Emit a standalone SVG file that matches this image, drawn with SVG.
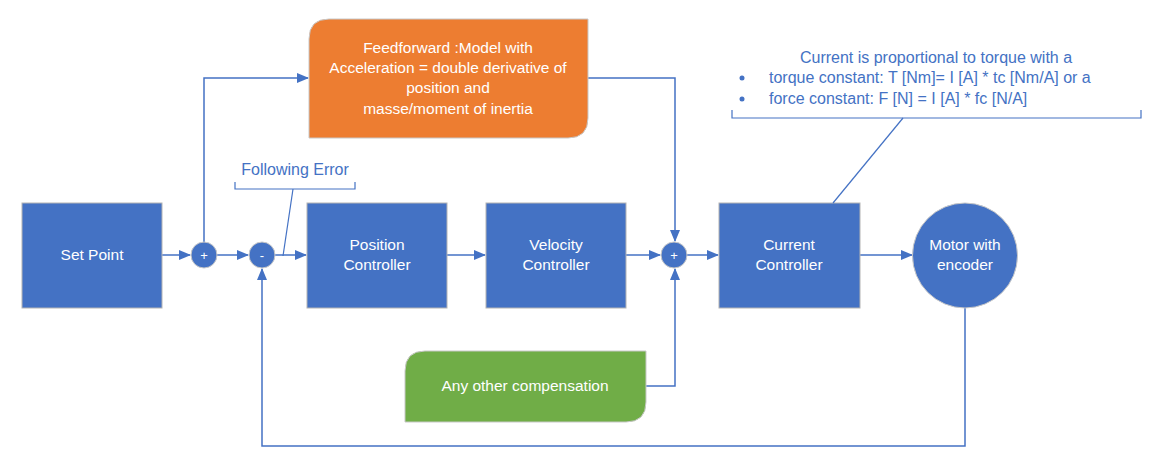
<svg xmlns="http://www.w3.org/2000/svg" width="1155" height="469" viewBox="0 0 1155 469">
<defs>
<marker id="ah" markerWidth="12" markerHeight="10" refX="11" refY="5" orient="auto" markerUnits="userSpaceOnUse">
<path d="M0,0 L12,5 L0,10 Z" fill="#4472C4"/>
</marker>
</defs>
<style>
.box{fill:#4472C4;stroke:#B4B4B4;stroke-width:1}
.sum{fill:#4472C4;stroke:#C8C8C8;stroke-width:1}
.lbl{font-family:"Liberation Sans",Arial,sans-serif;font-size:15.5px;fill:#FFFFFF;text-anchor:middle}
.sym{font-family:"Liberation Sans",Arial,sans-serif;font-size:13px;fill:#FFFFFF;text-anchor:middle}
.note{font-family:"Liberation Sans",Arial,sans-serif;font-size:16px;fill:#4472C4}
.ln{fill:none;stroke:#4472C4;stroke-width:1.5}
.thin{fill:none;stroke:#4472C4;stroke-width:1.2}
</style>
<rect width="1155" height="469" fill="#FFFFFF"/>
<g id="connectors">
<path class="ln" d="M162,255 L190,255" marker-end="url(#ah)"/>
<path class="ln" d="M217,255 L248,255" marker-end="url(#ah)"/>
<path class="ln" d="M275,255 L306,255" marker-end="url(#ah)"/>
<path class="ln" d="M447,255 L485,255" marker-end="url(#ah)"/>
<path class="ln" d="M626,255 L660,255" marker-end="url(#ah)"/>
<path class="ln" d="M687,255 L718,255" marker-end="url(#ah)"/>
<path class="ln" d="M860,255 L912,255" marker-end="url(#ah)"/>
<path class="ln" d="M204,242 L204,78 L308,78" marker-end="url(#ah)"/>
<path class="ln" d="M588,78 L675,78 L675,241" marker-end="url(#ah)"/>
<path class="ln" d="M646,386 L675,386 L675,269" marker-end="url(#ah)"/>
<path class="ln" d="M965,308 L965,446 L262,446 L262,269" marker-end="url(#ah)"/>
</g>
<g id="set-point">
<rect class="box" x="22" y="203" width="140" height="105"/>
<text class="lbl" x="92" y="260">Set Point</text>
</g>
<g id="sum-plus-1">
<circle class="sum" cx="204" cy="255" r="13"/>
<text class="sym" x="204" y="259.5">+</text>
</g>
<g id="sum-minus">
<circle class="sum" cx="262" cy="255" r="13"/>
<text class="sym" x="262" y="259.5">-</text>
</g>
<g id="position-controller">
<rect class="box" x="307" y="203" width="140" height="105"/>
<text class="lbl" x="377" y="250">Position</text>
<text class="lbl" x="377" y="270">Controller</text>
</g>
<g id="velocity-controller">
<rect class="box" x="486" y="203" width="140" height="105"/>
<text class="lbl" x="556" y="250">Velocity</text>
<text class="lbl" x="556" y="270">Controller</text>
</g>
<g id="sum-plus-2">
<circle class="sum" cx="674" cy="255" r="13"/>
<text class="sym" x="674" y="259.5">+</text>
</g>
<g id="current-controller">
<rect class="box" x="719" y="203" width="141" height="105"/>
<text class="lbl" x="789" y="250">Current</text>
<text class="lbl" x="789" y="270">Controller</text>
</g>
<g id="motor">
<circle class="sum" cx="965" cy="255.5" r="52.5"/>
<text class="lbl" x="965" y="250">Motor with</text>
<text class="lbl" x="965" y="270">encoder</text>
</g>
<g id="feedforward">
<path d="M329,19 L588,19 L588,118 Q588,138 568,138 L309,138 L309,39 Q309,19 329,19 Z" fill="#ED7D31" stroke="#C8C8C8" stroke-width="1"/>
<text class="lbl" x="448" y="53">Feedforward :Model with</text>
<text class="lbl" x="448" y="73">Acceleration = double derivative of</text>
<text class="lbl" x="448" y="93">position and</text>
<text class="lbl" x="448" y="114">masse/moment of inertia</text>
</g>
<g id="other-compensation">
<path d="M425,351 L646,351 L646,402 Q646,422 626,422 L405,422 L405,371 Q405,351 425,351 Z" fill="#70AD47" stroke="#C8C8C8" stroke-width="1"/>
<text class="lbl" x="525" y="391">Any other compensation</text>
</g>
<g id="following-error-callout">
<text class="note" x="295" y="175" text-anchor="middle">Following Error</text>
<path class="thin" d="M235,182 L235,189 L355,189 L355,182"/>
<path class="thin" d="M293,189 L283,256"/>
</g>
<g id="current-callout">
<text class="note" x="936" y="63" text-anchor="middle">Current is proportional to torque with a</text>
<circle cx="742" cy="78" r="2.5" fill="#4472C4"/>
<text class="note" x="769" y="83">torque constant: T [Nm]= I [A] * tc [Nm/A] or a</text>
<circle cx="742" cy="99" r="2.5" fill="#4472C4"/>
<text class="note" x="769" y="104">force constant: F [N] = I [A] * fc [N/A]</text>
<path class="thin" d="M732,110 L732,118 L1141,118 L1141,110"/>
<path class="thin" d="M903,118 L833,203"/>
</g>
</svg>
